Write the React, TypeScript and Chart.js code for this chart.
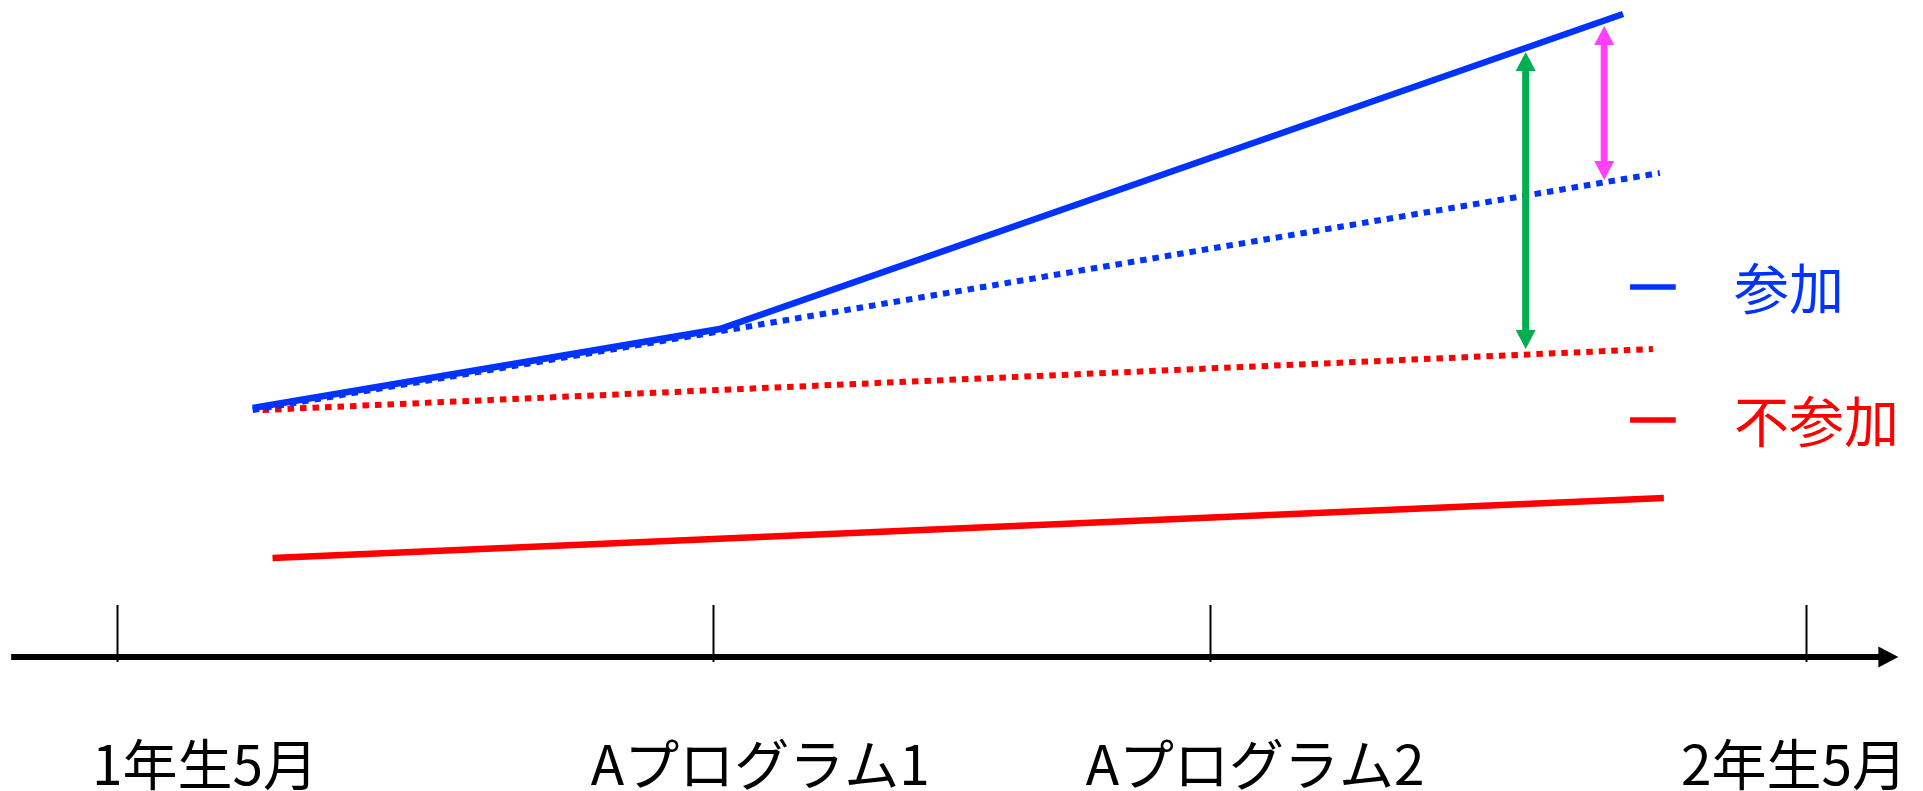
import { useEffect, useRef } from "react";
import { Chart, registerables } from "chart.js";

Chart.register(...registerables);

// Timeline (x: months after 1年生5月), score (y)
const TICK_VALUES = [0, 6, 11, 17];
const TICK_LABELS = ["1年生5月", "Aプログラム1", "Aプログラム2", "2年生5月"];

// 参加 (participants): actual path
const SANKA_X = [1.37, 6.07, 15.16];
const SANKA_Y = [24.9, 32.8, 64.3];
// 参加: expected path without the program
const SANKA_TREND_X = [1.37, 15.53];
const SANKA_TREND_Y = [24.7, 48.4];
// 不参加 (non-participants): expected path
const FUSANKA_TREND_X = [1.47, 15.46];
const FUSANKA_TREND_Y = [24.7, 30.8];
// 不参加: actual path
const FUSANKA_X = [1.57, 15.57];
const FUSANKA_Y = [9.9, 15.9];

// Double-headed gap arrows
const GAP_X = [14.18, 14.97];
const GAP_TOP = [60.5, 63.1];
const GAP_BOTTOM = [30.8, 47.7];

const LEGEND_LABELS = ["参加", "不参加"];

const BLUE = "#0033FF";
const RED = "#FF0000";
const GAP_COLORS = ["#00B050", "#FF40FF"];
const FONT = '"Noto Sans CJK JP", "Noto Sans", sans-serif';

const toPoints = (xs: number[], ys: number[]) => xs.map((x, i) => ({ x, y: ys[i] }));

function drawDoubleArrow(
  ctx: CanvasRenderingContext2D,
  x: number,
  yTop: number,
  yBottom: number,
  color: string
) {
  const headW = 20;
  const headL = 19;
  ctx.fillStyle = color;
  ctx.strokeStyle = color;
  ctx.lineWidth = 7;
  ctx.beginPath();
  ctx.moveTo(x, yTop + headL - 1);
  ctx.lineTo(x, yBottom - headL + 1);
  ctx.stroke();
  ctx.beginPath();
  ctx.moveTo(x, yTop);
  ctx.lineTo(x - headW / 2, yTop + headL);
  ctx.lineTo(x + headW / 2, yTop + headL);
  ctx.closePath();
  ctx.fill();
  ctx.beginPath();
  ctx.moveTo(x, yBottom);
  ctx.lineTo(x - headW / 2, yBottom - headL);
  ctx.lineTo(x + headW / 2, yBottom - headL);
  ctx.closePath();
  ctx.fill();
}

const timelinePlugin = {
  id: "timeline",
  afterDraw(chart: any) {
    const ctx: CanvasRenderingContext2D = chart.ctx;
    const xs = chart.scales.x;
    const ys = chart.scales.y;
    const y0 = ys.getPixelForValue(0);

    ctx.save();

    // time axis with arrow head
    const axisStart = xs.getPixelForValue(-1.06);
    const axisEnd = xs.getPixelForValue(17.93);
    ctx.strokeStyle = "#000";
    ctx.fillStyle = "#000";
    ctx.lineWidth = 6;
    ctx.beginPath();
    ctx.moveTo(axisStart, y0);
    ctx.lineTo(axisEnd - 16, y0);
    ctx.stroke();
    ctx.beginPath();
    ctx.moveTo(axisEnd, y0);
    ctx.lineTo(axisEnd - 20, y0 - 10.5);
    ctx.lineTo(axisEnd - 20, y0 + 10.5);
    ctx.closePath();
    ctx.fill();

    // tick marks
    ctx.lineWidth = 2;
    TICK_VALUES.forEach((v) => {
      const px = Math.round(xs.getPixelForValue(v)) + 0.5;
      ctx.beginPath();
      ctx.moveTo(px, ys.getPixelForValue(5.2));
      ctx.lineTo(px, ys.getPixelForValue(-0.5));
      ctx.stroke();
    });

    // tick labels
    const labelShift = [88.5, 47.5, 45.5, -12];
    ctx.font = `55px ${FONT}`;
    ctx.textAlign = "center";
    ctx.textBaseline = "middle";
    ctx.fillStyle = "#000";
    TICK_VALUES.forEach((v, i) => {
      ctx.fillText(TICK_LABELS[i], xs.getPixelForValue(v) + labelShift[i], 764);
    });

    // gap arrows
    GAP_X.forEach((v, i) => {
      drawDoubleArrow(
        ctx,
        xs.getPixelForValue(v),
        ys.getPixelForValue(GAP_TOP[i]),
        ys.getPixelForValue(GAP_BOTTOM[i]),
        GAP_COLORS[i]
      );
    });

    // legend
    const legendColors = [BLUE, RED];
    const legendRows = [287, 420];
    const dashFrom = xs.getPixelForValue(15.23);
    const dashTo = xs.getPixelForValue(15.69);
    LEGEND_LABELS.forEach((label, i) => {
      ctx.strokeStyle = legendColors[i];
      ctx.fillStyle = legendColors[i];
      ctx.lineWidth = 5.5;
      ctx.beginPath();
      ctx.moveTo(dashFrom, legendRows[i]);
      ctx.lineTo(dashTo, legendRows[i]);
      ctx.stroke();
      ctx.font = `55px ${FONT}`;
      ctx.textAlign = "left";
      ctx.textBaseline = "middle";
      ctx.fillText(label, 1734, legendRows[i] + 1);
    });

    ctx.restore();
  },
};

export default function App() {
  const canvasRef = useRef<HTMLCanvasElement | null>(null);

  useEffect(() => {
    const canvas = canvasRef.current;
    if (!canvas) return;
    const chart = new Chart(canvas, {
      type: "scatter",
      data: {
        datasets: [
          {
            label: "参加",
            data: toPoints(SANKA_X, SANKA_Y),
            showLine: true,
            borderColor: BLUE,
            borderWidth: 6.5,
            pointRadius: 0,
            borderCapStyle: "butt",
            borderJoinStyle: "miter",
            order: 1,
          },
          {
            label: "参加（予測）",
            data: toPoints(SANKA_TREND_X, SANKA_TREND_Y),
            showLine: true,
            borderColor: BLUE,
            borderWidth: 6,
            borderDash: [6.5, 6],
            pointRadius: 0,
            borderCapStyle: "butt",
            order: 2,
          },
          {
            label: "不参加（予測）",
            data: toPoints(FUSANKA_TREND_X, FUSANKA_TREND_Y),
            showLine: true,
            borderColor: RED,
            borderWidth: 6,
            borderDash: [6.5, 6],
            pointRadius: 0,
            borderCapStyle: "butt",
            order: 3,
          },
          {
            label: "不参加",
            data: toPoints(FUSANKA_X, FUSANKA_Y),
            showLine: true,
            borderColor: RED,
            borderWidth: 6.5,
            pointRadius: 0,
            borderCapStyle: "butt",
            order: 4,
          },
        ],
      },
      options: {
        responsive: false,
        animation: false,
        events: [],
        layout: { padding: { left: 0, right: 0, top: 0, bottom: 134 } },
        plugins: {
          legend: { display: false },
          tooltip: { enabled: false },
        },
        scales: {
          x: { type: "linear", display: false, min: -1.1723, max: 18.178 },
          y: { type: "linear", display: false, min: 0, max: 65.7 },
        },
      },
      plugins: [timelinePlugin],
    });
    return () => chart.destroy();
  }, []);

  return (
    <div style={{ position: "fixed", left: 0, top: 0, width: 1923, height: 791, background: "#fff" }}>
      <canvas ref={canvasRef} width={1923} height={791} style={{ display: "block" }} />
    </div>
  );
}
